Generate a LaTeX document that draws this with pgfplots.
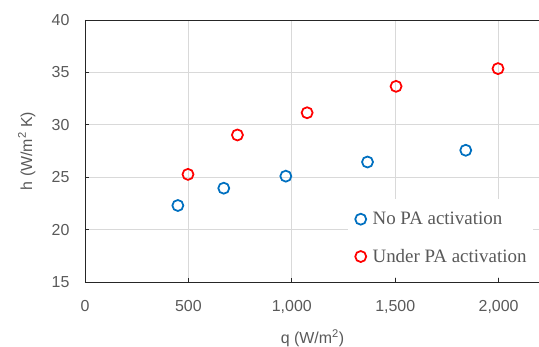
\documentclass[border=0pt]{standalone}
\usepackage{fontspec}
\setmainfont{Liberation Sans}
\newfontfamily\serifleg{Liberation Serif}
\usepackage{pgfplots}
\pgfplotsset{compat=1.18}
\definecolor{txtgray}{HTML}{595959}
\definecolor{gridgray}{HTML}{D9D9D9}
\definecolor{xlblue}{HTML}{0070C0}
\definecolor{xlred}{HTML}{FF0000}
\begin{document}
\begin{tikzpicture}
\begin{axis}[
  scale only axis,
  width=455bp, height=262bp,
  xmin=0, xmax=2200, ymin=15, ymax=40,
  xtick={0,500,1000,1500,2000},
  ytick={15,20,25,30,35,40},
  /pgf/number format/.cd, 1000 sep={,}, assume math mode=true, /pgfplots/.cd,
  grid=major,
  major grid style={gridgray, line width=0.75bp},
  axis line style={draw=none},
  tick align=inside,
  xtick pos=bottom, ytick pos=left,
  major tick length=4bp,
  tick style={black!85, line width=0.75bp},
  ticklabel style={font=\fontsize{16}{19}\selectfont, text=txtgray},
  xticklabel style={yshift=-15bp},
  yticklabel style={xshift=-12bp},
  label style={font=\fontsize{16}{19}\selectfont, text=txtgray},
  xlabel={q (W/m\textsuperscript{2})},
  ylabel={h (W/m\textsuperscript{2} K)},
  xlabel style={anchor=center, at={(axis description cs:0.5,-0.2137)}},
  ylabel style={anchor=center, at={(axis description cs:-0.128,0.5)}},
  legend style={at={(axis cs:1270,22.92)}, anchor=north west, fill=white, draw=none,
    font=\serifleg\fontsize{19}{22}\selectfont, text=txtgray,
    row sep=19bp, inner xsep=5bp, inner ysep=11bp},
  legend cell align=left,
  legend image code/.code={\path (0bp,0bp) (16bp,0bp); \draw[#1] plot coordinates {(7bp,0bp)};},
]
\addplot[only marks, mark=o, mark size=5.5bp, line width=1.75bp, color=xlblue]
  coordinates {(449,22.3) (671,23.95) (971,25.1) (1366,26.45) (1841,27.57)};
\addlegendentry{No PA activation}
\addplot[only marks, mark=o, mark size=5.5bp, line width=1.75bp, color=xlred]
  coordinates {(498,25.27) (737,29.03) (1074,31.15) (1504,33.67) (1997,35.36)};
\addlegendentry{Under PA activation}
\coordinate (ll) at (rel axis cs:0,0);
\coordinate (ur) at (rel axis cs:1,1);
\end{axis}
\draw[black!85, line width=0.9bp] (ll |- ur) -- (ll) -- (ll -| ur);
\draw[black!85, line width=0.9bp] (ll |- ur) -- (ur);
\pgfresetboundingbox
\useasboundingbox ([shift={(-85bp,-65bp)}]ll) rectangle ([shift={(-1bp,20bp)}]ur);
\end{tikzpicture}
\end{document}
